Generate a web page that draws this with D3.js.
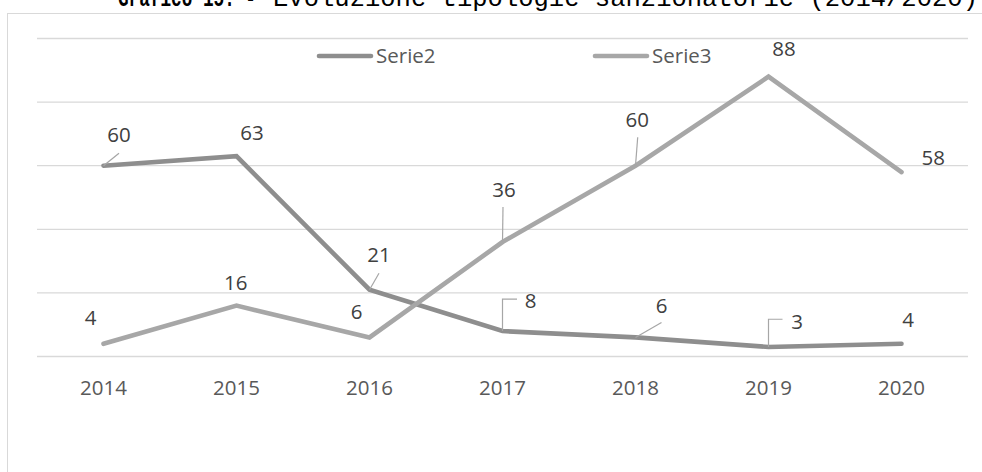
<!DOCTYPE html>
<html>
<head>
<meta charset="utf-8">
<script src="https://cdn.jsdelivr.net/npm/d3@7"></script>
<style>
  html, body { margin: 0; padding: 0; background: #ffffff; }
  svg { display: block; }
</style>
</head>
<body>
<svg id="chart" width="982" height="472"></svg>
<script>
// Years on the category axis
const years = ["2014", "2015", "2016", "2017", "2018", "2019", "2020"];
// Series values
const serie2 = [60, 63, 21, 8, 6, 3, 4];
const serie3 = [4, 16, 6, 36, 60, 88, 58];
const seriesNames = ["Serie2", "Serie3"];
// Value axis gridline ticks
const gridTicks = [0, 20, 40, 60, 80, 100];

const titleBold = "Grafico 15. -";
const titleRest = "Evoluzione tipologie sanzionatorie (2014/2020)";

// Label placement (pixel offsets of the label centre from its point, leader style)
const labelLayout = {
  Serie2: [
    { dx: 15.5, dy: -30.7, leader: "diag", lx: 15.5, ly: -12.5 },
    { dx: 15.5, dy: -23.5 },
    { dx: 9.5, dy: -34.7, leader: "diag", lx: 9.5, ly: -16.5 },
    { dx: 28, dy: -30, leader: "elbow", lx: 14.5, ly: -32 },
    { dx: 26, dy: -31.4, leader: "diag", lx: 26, ly: -15 },
    { dx: 28.5, dy: -25.3, leader: "elbow", lx: 14, ly: -27.7 },
    { dx: 6.5, dy: -23.8 }
  ],
  Serie3: [
    { dx: -12.8, dy: -25.8 },
    { dx: -0.8, dy: -22.9 },
    { dx: -12.8, dy: -25.7 },
    { dx: 1.5, dy: -52.7, leader: "diag", lx: 0.5, ly: -35 },
    { dx: 1.8, dy: -46.4, leader: "diag", lx: 2.2, ly: -28.4 },
    { dx: 15.5, dy: -28.4 },
    { dx: 31.8, dy: -14.4 }
  ]
};

const colors = { Serie2: "#8e8e8e", Serie3: "#a7a7a7" };
const font = "'Open Sans', 'Liberation Sans', sans-serif";
const fs = 20.5;

const svg = d3.select("#chart");

// Chart frame
svg.append("rect")
  .attr("x", 7.5).attr("y", 13.5)
  .attr("width", 990).attr("height", 480)
  .attr("fill", "#ffffff")
  .attr("stroke", "#d9d9d9").attr("stroke-width", 1);

// Title (sits above the frame, partly off the page)
const titleFont = "'Liberation Mono', 'Courier New', monospace";
svg.append("text")
  .attr("x", 118).attr("y", 6)
  .attr("font-family", titleFont)
  .attr("font-size", 25)
  .attr("font-weight", "bold")
  .attr("textLength", 138).attr("lengthAdjust", "spacingAndGlyphs")
  .text(titleBold);
svg.append("text")
  .attr("x", 273).attr("y", 6)
  .attr("font-family", titleFont)
  .attr("font-size", 25)
  .attr("textLength", 705).attr("lengthAdjust", "spacingAndGlyphs")
  .text(titleRest);

const plot = { left: 37, right: 968, top: 38.5, bottom: 356.5 };

const x = d3.scaleBand().domain(years).range([plot.left, plot.right]);
const y = d3.scaleLinear().domain([0, 100]).range([plot.bottom, plot.top]);
const cx = d => x(d) + x.bandwidth() / 2;

// Gridlines
svg.append("g")
  .selectAll("line")
  .data(gridTicks)
  .join("line")
  .attr("x1", plot.left).attr("x2", plot.right)
  .attr("y1", d => y(d)).attr("y2", d => y(d))
  .attr("stroke", "#d9d9d9").attr("stroke-width", 1.3);

// Category axis labels
const xAxis = d3.axisBottom(x).tickSize(0).tickPadding(0);
const gx = svg.append("g")
  .attr("transform", `translate(0, ${plot.bottom})`)
  .call(xAxis);
gx.select(".domain").remove();
gx.selectAll("text")
  .attr("y", 38.5)
  .attr("dy", null)
  .attr("font-family", font)
  .attr("font-size", fs)
  .attr("fill", "#595959");

const seriesData = { Serie2: serie2, Serie3: serie3 };

const line = d3.line()
  .x((d, i) => cx(years[i]))
  .y(d => y(d));

// Lines
seriesNames.forEach(name => {
  svg.append("path")
    .datum(seriesData[name])
    .attr("d", line)
    .attr("fill", "none")
    .attr("stroke", colors[name])
    .attr("stroke-width", 4.6)
    .attr("stroke-linecap", "round")
    .attr("stroke-linejoin", "miter");
});

// Data labels with leader lines
seriesNames.forEach(name => {
  const vals = seriesData[name];
  const g = svg.append("g");
  vals.forEach((v, i) => {
    const px = cx(years[i]);
    const py = y(v);
    const L = labelLayout[name][i];
    if (L.leader === "diag") {
      g.append("line")
        .attr("x1", px).attr("y1", py)
        .attr("x2", px + L.lx).attr("y2", py + L.ly)
        .attr("stroke", "#a6a6a6").attr("stroke-width", 1.2);
    } else if (L.leader === "elbow") {
      g.append("path")
        .attr("d", `M${px},${py} L${px},${py + L.ly} L${px + L.lx},${py + L.ly}`)
        .attr("fill", "none")
        .attr("stroke", "#a6a6a6").attr("stroke-width", 1.2);
    }
    g.append("text")
      .attr("x", px + L.dx)
      .attr("y", py + L.dy + fs * 0.357)
      .attr("text-anchor", "middle")
      .attr("font-family", font)
      .attr("font-size", fs)
      .attr("fill", "#404040")
      .text(v);
  });
});

// Legend
const legendPos = [{ x1: 319, x2: 371 }, { x1: 595, x2: 647 }];
const legendY = 56;
seriesNames.forEach((name, k) => {
  const p = legendPos[k];
  svg.append("line")
    .attr("x1", p.x1).attr("x2", p.x2)
    .attr("y1", legendY).attr("y2", legendY)
    .attr("stroke", colors[name]).attr("stroke-width", 4.6)
    .attr("stroke-linecap", "round");
  svg.append("text")
    .attr("x", p.x2 + 5)
    .attr("y", legendY + fs * 0.357)
    .attr("font-family", font)
    .attr("font-size", fs)
    .attr("fill", "#595959")
    .text(name);
});
</script>
</body>
</html>
